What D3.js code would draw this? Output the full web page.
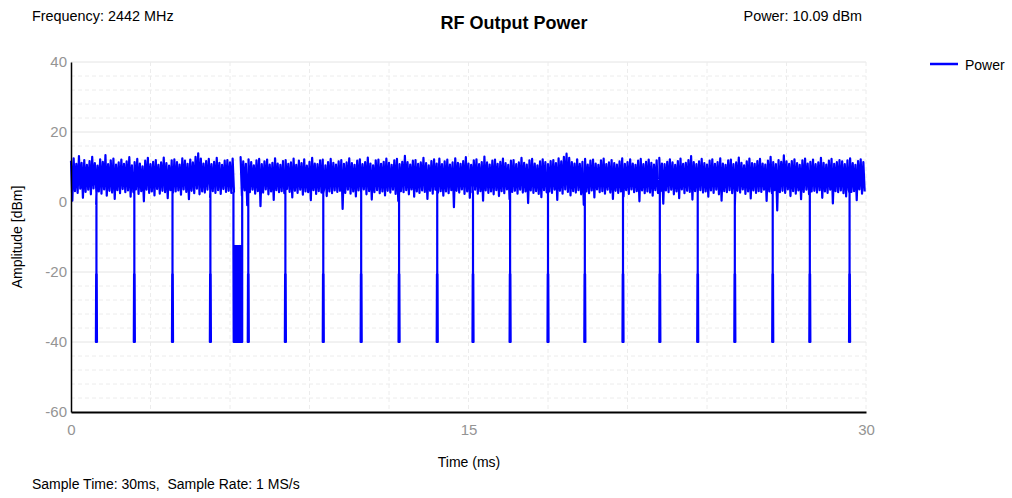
<!DOCTYPE html>
<html>
<head>
<meta charset="utf-8">
<script src="https://cdn.jsdelivr.net/npm/d3@7"></script>
<style>
body{margin:0;background:#fff;font-family:"Liberation Sans",Arial,sans-serif;}
.tick text{fill:#949494;}
</style>
</head>
<body>
<svg id="rf"></svg>
<script>
// upper edge of the noise band, one value every 0.1 ms (null = gap in the trace)
var peakHi = [
11.8,12.5,10.9,13.1,11.2,12.0,10.6,11.7,12.9,11.1,10.4,12.2,11.5,13.4,10.8,11.9,12.4,10.7,11.3,12.1,
10.9,11.6,12.8,10.5,11.4,12.3,11.0,10.2,11.8,12.6,10.8,11.5,12.0,10.6,11.3,12.7,11.1,10.4,11.9,12.2,
11.4,10.7,12.5,11.8,10.9,12.1,11.3,12.9,13.9,12.4,11.0,11.7,12.3,10.8,11.5,12.6,11.2,10.6,11.8,12.0,
11.3,12.4,null,null,12.8,11.6,10.9,12.2,11.4,10.5,11.9,12.3,10.8,11.6,12.1,10.7,11.2,12.5,11.0,10.6,
11.7,12.0,10.9,11.3,12.4,10.6,11.8,11.1,12.2,10.4,11.5,12.6,11.0,10.8,11.9,12.1,10.5,11.4,12.3,11.2,
10.7,11.6,12.0,10.9,11.3,12.5,11.1,10.6,11.8,12.2,10.8,11.4,12.7,11.0,10.5,11.9,12.1,10.9,11.5,12.4,
11.2,10.6,11.9,12.3,10.8,11.5,13.2,11.4,10.7,11.8,12.0,10.9,11.3,12.6,11.1,10.5,11.7,12.2,11.0,12.4,
10.8,11.6,12.1,10.7,11.3,12.5,11.2,10.9,11.7,12.8,11.0,10.6,11.9,12.2,10.8,11.4,13.0,11.3,10.7,11.8,
12.1,10.9,11.5,12.4,11.1,10.6,11.8,12.0,10.8,11.3,12.6,11.2,10.7,11.9,12.3,11.0,10.5,11.6,12.2,11.4,
10.8,11.7,12.0,11.1,12.5,11.6,12.9,13.8,12.6,11.4,11.0,12.2,10.9,11.5,12.3,10.7,11.8,12.1,11.0,10.6,
11.9,12.4,10.8,11.3,12.0,11.1,10.7,11.6,12.5,10.9,11.4,12.2,11.0,10.6,11.8,12.3,10.8,11.5,12.1,11.2,
10.7,11.9,12.6,11.0,10.8,11.5,12.2,11.3,10.6,11.7,12.4,10.9,11.2,12.0,13.1,11.4,10.8,11.6,12.3,11.1,
10.7,11.8,12.2,10.9,11.4,12.5,11.0,10.6,11.9,12.1,10.8,11.3,12.7,11.2,10.5,11.6,12.4,11.1,10.9,11.7,
12.3,11.0,10.7,11.8,12.9,11.4,10.8,12.0,11.5,13.3,11.6,10.9,11.7,12.2,11.1,10.6,11.9,12.4,11.0,11.5,
12.1,10.8,11.3,12.6,11.2,10.7,11.8,12.3,10.9,11.4,12.0,11.6,10.8,11.9,12.5,11.1,10.6,11.7,12.2,11.4
]
// lower edge of the noise band, 0.05 ms after each upper value
var peakLo = [
0.4,3.1,2.6,3.8,1.2,2.9,3.5,2.2,3.9,-0.6,3.0,2.4,3.6,1.8,3.2,2.7,0.9,3.4,2.5,3.7,
2.8,3.3,1.5,2.9,3.6,2.3,3.1,0.2,3.5,2.6,3.0,1.9,3.7,2.4,3.2,2.8,1.1,3.4,2.7,3.0,
3.3,2.1,3.6,2.9,0.8,3.2,2.5,3.8,2.2,3.0,2.7,3.5,1.4,3.1,2.6,3.4,2.3,3.7,2.9,3.2,
2.6,3.0,null,null,1.8,3.3,-0.9,2.8,3.5,2.4,3.1,-1.2,2.7,3.6,2.2,3.0,0.6,3.4,2.8,3.1,
2.5,3.7,2.9,1.3,3.2,2.6,3.5,2.1,3.0,2.8,0.5,3.4,2.3,3.1,2.7,3.6,1.7,3.0,2.5,3.3,
2.9,3.2,-2.0,2.6,3.5,2.4,3.0,1.6,3.3,2.7,3.6,2.2,3.1,0.7,2.8,3.4,2.5,3.0,1.9,3.2,
2.7,3.5,2.3,0.3,3.1,2.8,3.4,2.2,3.6,1.5,3.0,2.6,3.3,2.9,0.9,3.2,2.4,3.5,2.7,3.1,
1.8,3.0,2.5,3.4,-1.5,3.2,2.7,3.6,2.3,3.0,1.2,2.8,3.5,2.4,3.1,0.4,3.3,2.6,3.0,2.2,
3.4,1.7,3.1,2.5,3.6,0.8,2.9,3.2,2.4,3.5,2.7,3.0,-0.3,3.3,2.6,3.1,2.3,1.4,3.4,2.8,
3.0,2.6,3.5,0.6,3.2,2.4,3.6,2.9,1.9,3.1,2.7,3.4,2.2,-0.8,3.0,2.5,3.3,1.3,3.6,2.8,
3.1,2.4,3.5,2.7,0.9,3.2,2.6,3.0,1.6,3.4,2.3,3.6,2.8,3.1,0.2,3.3,2.5,3.0,2.7,1.8,
3.4,2.6,3.1,-0.5,3.3,2.8,3.5,2.2,3.0,1.1,3.6,2.5,3.2,2.9,0.7,3.1,2.4,3.4,2.7,3.0,
1.5,3.3,2.6,3.5,2.2,0.4,3.1,2.8,3.4,2.5,-1.1,3.2,2.7,3.6,2.3,3.0,1.0,3.3,2.6,3.1,
2.9,3.5,0.3,3.0,2.5,3.4,-2.4,2.8,3.2,2.6,3.6,1.7,3.1,2.4,3.3,0.8,2.9,3.5,2.2,3.0,
3.2,2.7,3.4,1.2,3.0,2.6,3.5,-0.4,3.1,2.8,3.3,2.5,1.6,3.4,2.9,3.1,0.5,3.6,2.4,3.0
]
// times (ms) of the short drops to -40 dBm
var dropTimes = [0.94,2.37,3.81,5.24,6.67,8.07,9.50,10.93,12.36,13.80,15.15,16.55,
                 17.98,19.37,20.81,22.20,23.63,25.03,26.46,27.86,29.36]
// shape of one drop: [offset ms, dBm]
var dropShape = [[0.02,2.5],[0.02,-20.6],[0,-40],[0.01,-20.6],[0.02,-40],[0.03,-20.6],
                 [0.04,-40],[0.02,-20.6],[0.02,2.5]]
// the longer burst near 6.2 ms: [time ms, dBm]
var burstStart = 6.16
var burst = [[6.13,2.5],[6.13,-12.6],[6.14,-40],[6.15,-12.6],[6.16,-40],[6.17,-12.6],[6.18,-40],
             [6.19,-12.6],[6.20,-40],[6.21,-12.6],[6.22,-40],[6.23,-12.6],[6.24,-40],[6.25,-12.6],
             [6.26,-40],[6.27,-12.6],[6.28,-40],[6.29,-12.6],[6.30,-40],[6.31,-12.6],[6.32,-40],
             [6.33,-12.6],[6.34,-40],[6.35,-12.6],[6.36,-40],[6.37,-12.6],[6.38,-40],[6.39,-12.6],
             [6.40,-40],[6.41,-12.6],[6.42,-40],[6.43,-20.6],[6.44,-40],[6.45,-20.6],[6.46,-40],
             [6.46,2.5]]

var yTicks = [-60,-40,-20,0,20,40]
var xTicks = [0,15,30]

var screen = {width:1012,height:498}
var plot = {left:71,right:866,top:62,bottom:412}

var buildSeries = function()
{
    // groups of points that are inserted into the band at their start time
    var groups = dropTimes.map(function(t){
        return {start:t, pts:dropShape.map(function(p){return {t:t+p[0],v:p[1]}})}
    })
    groups.push({start:burstStart, pts:burst.map(function(p){return {t:p[0],v:p[1]}})})
    groups.sort(function(a,b){return a.start-b.start})

    var band = []
    peakHi.forEach(function(v,i){
        if(v!==null) band.push({t:i*0.1,v:v})
        if(peakLo[i]!==null) band.push({t:i*0.1+0.05,v:peakLo[i]})
    })

    var pts = [], g = 0
    band.forEach(function(p){
        while(g<groups.length && groups[g].start<p.t){
            pts = pts.concat(groups[g].pts)
            g++
        }
        pts.push(p)
    })
    return pts
}

var svg = d3.select("#rf")
    .attr("width",screen.width)
    .attr("height",screen.height)

var xScale = d3.scaleLinear().domain([0,30]).range([plot.left,plot.right])
var yScale = d3.scaleLinear().domain([-60,40]).range([plot.bottom,plot.top])

// grid
var grid = svg.append("g")
grid.selectAll(".hg")
    .data(d3.range(-56,41,4))
    .enter().append("line")
    .attr("x1",plot.left).attr("x2",plot.right)
    .attr("y1",function(d){return yScale(d)})
    .attr("y2",function(d){return yScale(d)})
    .attr("stroke",function(d){return d%20===0?"#e4e4e4":"#ececec"})
    .attr("stroke-dasharray",function(d){return d%20===0?null:"4,3"})
grid.selectAll(".vg")
    .data(d3.range(3,31,3))
    .enter().append("line")
    .attr("y1",plot.top).attr("y2",plot.bottom)
    .attr("x1",function(d){return xScale(d)})
    .attr("x2",function(d){return xScale(d)})
    .attr("stroke","#ececec")
    .attr("stroke-dasharray","4,3")

// trace
var line = d3.line()
    .x(function(d){return xScale(d.t)})
    .y(function(d){return yScale(d.v)})
svg.append("path")
    .datum(buildSeries())
    .attr("d",line)
    .attr("fill","none")
    .attr("stroke","#0000ff")
    .attr("stroke-width",2.2)
    .attr("stroke-linejoin","round")

// axes
var yAxis = d3.axisLeft(yScale).tickValues(yTicks).tickSize(0).tickPadding(4)
    .tickFormat(function(d){return String(d)})
var xAxis = d3.axisBottom(xScale).tickValues(xTicks).tickSize(0).tickPadding(12)
var ya = svg.append("g").attr("transform","translate("+plot.left+",0)").call(yAxis)
var xa = svg.append("g").attr("transform","translate(0,"+plot.bottom+")").call(xAxis)
ya.selectAll("text").style("font-size","15px").style("font-family","Liberation Sans, Arial")
xa.selectAll("text").style("font-size","15px").style("font-family","Liberation Sans, Arial")
ya.select(".domain").attr("stroke","#000").attr("stroke-width",1.5)
xa.select(".domain").attr("stroke","#000").attr("stroke-width",2)

// labels
var labels = svg.append("g").style("font-family","Liberation Sans, Arial").style("fill","#000")
labels.append("text").text("Frequency: 2442 MHz")
    .attr("x",32).attr("y",21).style("font-size","14.4px")
labels.append("text").text("RF Output Power")
    .attr("x",514).attr("y",29).attr("text-anchor","middle")
    .style("font-size","18px").style("font-weight","bold")
labels.append("text").text("Power: 10.09 dBm")
    .attr("x",862).attr("y",21).attr("text-anchor","end").style("font-size","14.4px")
labels.append("text").text("Time (ms)")
    .attr("x",469).attr("y",467).attr("text-anchor","middle").style("font-size","14px")
labels.append("text").text("Amplitude [dBm]")
    .attr("transform","translate(22,237) rotate(-90)")
    .attr("text-anchor","middle").style("font-size","14px")
labels.append("text").text("Sample Time: 30ms,  Sample Rate: 1 MS/s")
    .attr("x",32).attr("y",489).style("font-size","14px").style("white-space","pre")

// legend
var legend = svg.append("g")
legend.append("line").attr("x1",930).attr("x2",958).attr("y1",64).attr("y2",64)
    .attr("stroke","#0000ff").attr("stroke-width",2.5)
legend.append("text").text("Power").attr("x",965).attr("y",70)
    .style("font-size","14px").style("font-family","Liberation Sans, Arial")
</script>
</body>
</html>
